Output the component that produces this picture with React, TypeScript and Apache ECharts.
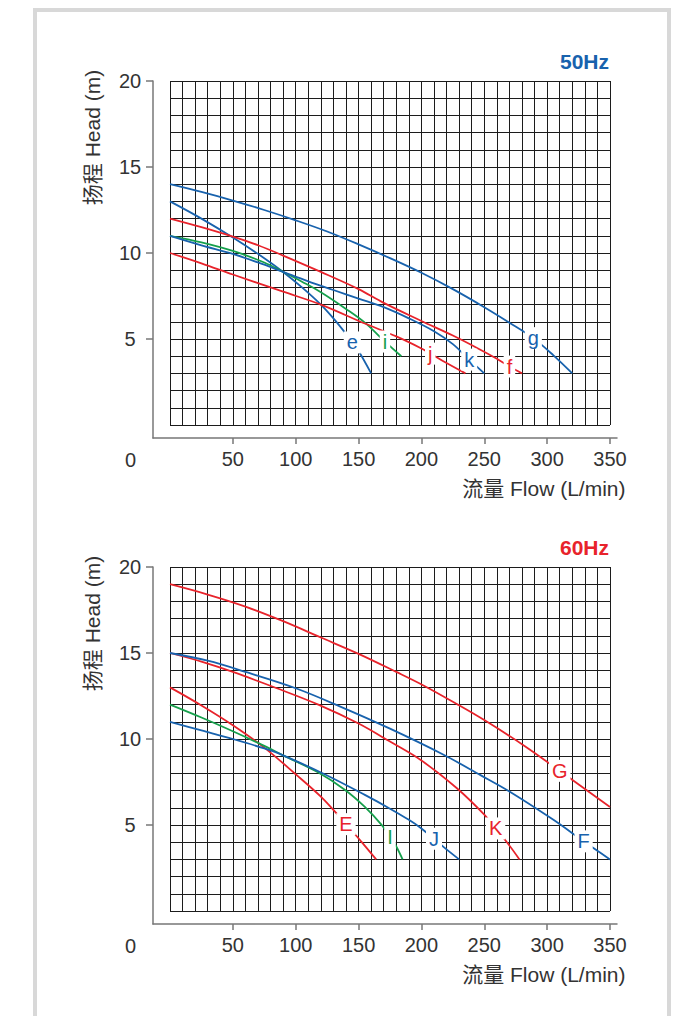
import React, { useEffect, useRef } from 'react';
import * as echarts from 'echarts';

// ---------- tick labels ----------
const FLOW_TICKS = [50, 100, 150, 200, 250, 300, 350];
const HEAD_TICKS = [5, 10, 15, 20];

// ---------- 50Hz curves [flow L/min, head m] ----------
const E50 = [[0, 13], [25, 12.0], [50, 10.9], [75, 9.7], [90, 8.9], [105, 8.0], [120, 7.0], [130, 6.2], [140, 5.3], [145, 4.8], [150, 4.3], [160, 3.0]];
const I50 = [[0, 11], [25, 10.62], [50, 10.12], [75, 9.45], [90, 8.9], [105, 8.33], [120, 7.72], [140, 6.75], [155, 5.95], [171, 4.85], [184, 4.0]];
const K50 = [[0, 11], [25, 10.45], [50, 9.95], [70, 9.45], [90, 8.9], [110, 8.35], [130, 7.85], [150, 7.35], [170, 6.85], [190, 6.2], [210, 5.45], [225, 4.7], [238, 3.8], [250, 3.0]];
const J50 = [[0, 10], [25, 9.4], [50, 8.75], [90, 7.75], [120, 7.0], [155, 5.9], [180, 5.15], [200, 4.45], [207, 4.15], [220, 3.6], [235, 3.0]];
const F50 = [[0, 12], [25, 11.5], [50, 10.95], [70, 10.45], [90, 9.85], [120, 8.9], [150, 7.9], [170, 7.1], [200, 6.05], [225, 5.2], [245, 4.45], [260, 3.85], [270, 3.4], [280, 3.0]];
const G50 = [[0, 14], [25, 13.55], [50, 13.05], [75, 12.5], [100, 11.9], [125, 11.25], [150, 10.5], [175, 9.7], [200, 8.85], [225, 7.9], [250, 6.85], [270, 5.95], [289, 5.05], [305, 4.05], [320, 3.0]];

// ---------- 60Hz curves ----------
const E60 = [[0, 13], [25, 11.95], [50, 10.8], [75, 9.5], [100, 7.95], [120, 6.65], [134, 5.55], [140, 5.05], [152, 4.05], [164, 3.0]];
const I60 = [[0, 12], [25, 11.25], [50, 10.45], [75, 9.6], [90, 9.05], [118, 8.05], [139, 7.05], [155, 6.05], [169, 4.95], [175, 4.3], [180, 3.75], [185, 3.0]];
const J60 = [[0, 11], [25, 10.5], [50, 10.0], [75, 9.45], [90, 9.05], [123, 7.95], [155, 6.75], [175, 5.95], [190, 5.3], [200, 4.8], [210, 4.2], [218, 3.7], [230, 3.0]];
const K60 = [[0, 15], [25, 14.5], [50, 13.9], [85, 12.95], [118, 12.0], [150, 10.9], [175, 9.85], [200, 8.75], [228, 7.15], [250, 5.6], [259, 4.8], [268, 4.0], [278, 3.0]];
const F60 = [[0, 15], [30, 14.55], [60, 13.9], [100, 12.95], [135, 11.9], [175, 10.6], [218, 9.07], [247, 7.9], [270, 6.95], [305, 5.3], [329, 4.05], [350, 3.0]];
const G60 = [[0, 19], [30, 18.4], [60, 17.7], [90, 16.85], [120, 15.9], [150, 14.95], [180, 13.9], [202, 13.1], [229, 12.0], [250, 11.1], [282, 9.6], [310, 8.15], [350, 6.05]];

// ---------- curve names and label positions (points on curves) ----------
const NAMES_50 = ['e', 'i', 'k', 'j', 'f', 'g'];
const LABEL_AT_50 = [[145, 4.8], [171, 4.85], [238, 3.8], [207, 4.15], [270, 3.4], [289, 5.05]];
const NAMES_60 = ['E', 'I', 'J', 'K', 'F', 'G'];
const LABEL_AT_60 = [[140, 5.05], [175, 4.3], [210, 4.2], [259, 4.8], [329, 4.05], [310, 8.15]];

const BLUE = '#1862ad';
const RED = '#e8232b';
const GREEN = '#16a04c';
const FONT = "'Liberation Sans', Arial, 'Noto Sans CJK SC', sans-serif";

const CURVES_50 = [E50, I50, K50, J50, F50, G50];
const COLORS_50 = [BLUE, GREEN, BLUE, RED, RED, BLUE];
const CURVES_60 = [E60, I60, J60, K60, F60, G60];
const COLORS_60 = [RED, GREEN, BLUE, RED, BLUE, RED];

const PX_PER_Q = 440 / 350;
const PX_PER_H = 344 / 20;

function buildOption() {
  const tops = [81, 567];
  const grid: any[] = [];
  const xAxis: any[] = [];
  const yAxis: any[] = [];
  const series: any[] = [];
  const graphic: any[] = [];

  graphic.push({
    type: 'rect',
    z: -10,
    shape: { x: 35, y: 10, width: 634, height: 1040 },
    style: { fill: 'none', stroke: '#d8d8d8', lineWidth: 4 },
  });

  const sets = [
    { curves: CURVES_50, colors: COLORS_50, names: NAMES_50, labels: LABEL_AT_50, title: '50Hz', titleColor: BLUE },
    { curves: CURVES_60, colors: COLORS_60, names: NAMES_60, labels: LABEL_AT_60, title: '60Hz', titleColor: RED },
  ];

  sets.forEach((set, k) => {
    const top = tops[k];
    const gPlot = grid.length;
    grid.push({ left: 170, top, width: 440, height: 344 });
    const gAxis = grid.length;
    grid.push({ left: 153, top, width: 464, height: 357 });

    const xPlot = xAxis.length;
    xAxis.push({
      type: 'value', gridIndex: gPlot, min: 0, max: 350, interval: 10,
      axisLine: { show: false }, axisTick: { show: false }, axisLabel: { show: false },
      splitLine: { show: true, lineStyle: { color: '#1c1c1c', width: 1 } },
    });
    xAxis.push({
      type: 'value', gridIndex: gAxis, min: -17 / PX_PER_Q, max: 350 + 7 / PX_PER_Q,
      axisLine: { show: true, onZero: false, lineStyle: { color: '#777', width: 1.5 } },
      axisTick: { show: true, customValues: FLOW_TICKS, length: 6, lineStyle: { color: '#777', width: 1.5 } },
      axisLabel: { show: true, customValues: FLOW_TICKS, margin: 11, fontSize: 20, color: '#333', fontFamily: FONT },
      splitLine: { show: false },
    });
    const yPlot = yAxis.length;
    yAxis.push({
      type: 'value', gridIndex: gPlot, min: 0, max: 20, interval: 1,
      axisLine: { show: false }, axisTick: { show: false }, axisLabel: { show: false },
      splitLine: { show: true, lineStyle: { color: '#1c1c1c', width: 1 } },
    });
    yAxis.push({
      type: 'value', gridIndex: gAxis, min: -13 / PX_PER_H, max: 20,
      axisLine: { show: true, onZero: false, lineStyle: { color: '#777', width: 1.5 } },
      axisTick: { show: true, customValues: HEAD_TICKS, length: 7, lineStyle: { color: '#777', width: 1.5 } },
      axisLabel: { show: true, customValues: HEAD_TICKS, margin: 23, align: 'center', fontSize: 20, color: '#333', fontFamily: FONT },
      splitLine: { show: false },
    });

    set.curves.forEach((pts, i) => {
      const color = set.colors[i];
      series.push({
        type: 'line', xAxisIndex: xPlot, yAxisIndex: yPlot, data: pts,
        smooth: 0.35, symbol: 'none', silent: true, z: 2,
        lineStyle: { color, width: 1.8 },
        markPoint: {
          silent: true,
          symbol: 'circle',
          symbolSize: 1,
          itemStyle: { color: '#fff', opacity: 1 },
          data: [{ name: set.names[i], coord: set.labels[i] }],
          label: {
            show: true, position: 'inside', formatter: '{b}', fontSize: 20, fontFamily: FONT,
            color, opacity: 1, backgroundColor: '#fff', padding: [1, 3], lineHeight: 20,
            textBorderWidth: 0,
          },
        },
      });
    });

    const dy = top - 81;
    graphic.push({
      type: 'text', x: 609, y: 61.5 + dy,
      style: { text: set.title, fill: set.titleColor, font: `bold 21px ${FONT}`, align: 'right', verticalAlign: 'middle' },
    });
    graphic.push({
      type: 'text', x: 130.5, y: 460 + dy,
      style: { text: '0', fill: '#333', font: `20px ${FONT}`, align: 'center', verticalAlign: 'middle' },
    });
    graphic.push({
      type: 'text', x: 92.5, y: 137.5 + dy, rotation: Math.PI / 2,
      style: { text: '扬程 Head (m)', fill: '#333', font: `21px ${FONT}`, align: 'center', verticalAlign: 'middle' },
    });
    graphic.push({
      type: 'text', x: 625.5, y: 488 + dy,
      style: { text: '流量 Flow (L/min)', fill: '#333', font: `21px ${FONT}`, align: 'right', verticalAlign: 'middle' },
    });
  });

  return { animation: false, backgroundColor: '#fff', grid, xAxis, yAxis, series, graphic };
}

export default function App() {
  const ref = useRef<HTMLDivElement>(null);
  useEffect(() => {
    const chart = echarts.init(ref.current!, null, { renderer: 'svg' });
    chart.setOption(buildOption() as any);
    return () => chart.dispose();
  }, []);
  return (
    <div
      ref={ref}
      style={{ position: 'absolute', left: 0, top: 0, width: 687, height: 1016, background: '#fff' }}
    />
  );
}
